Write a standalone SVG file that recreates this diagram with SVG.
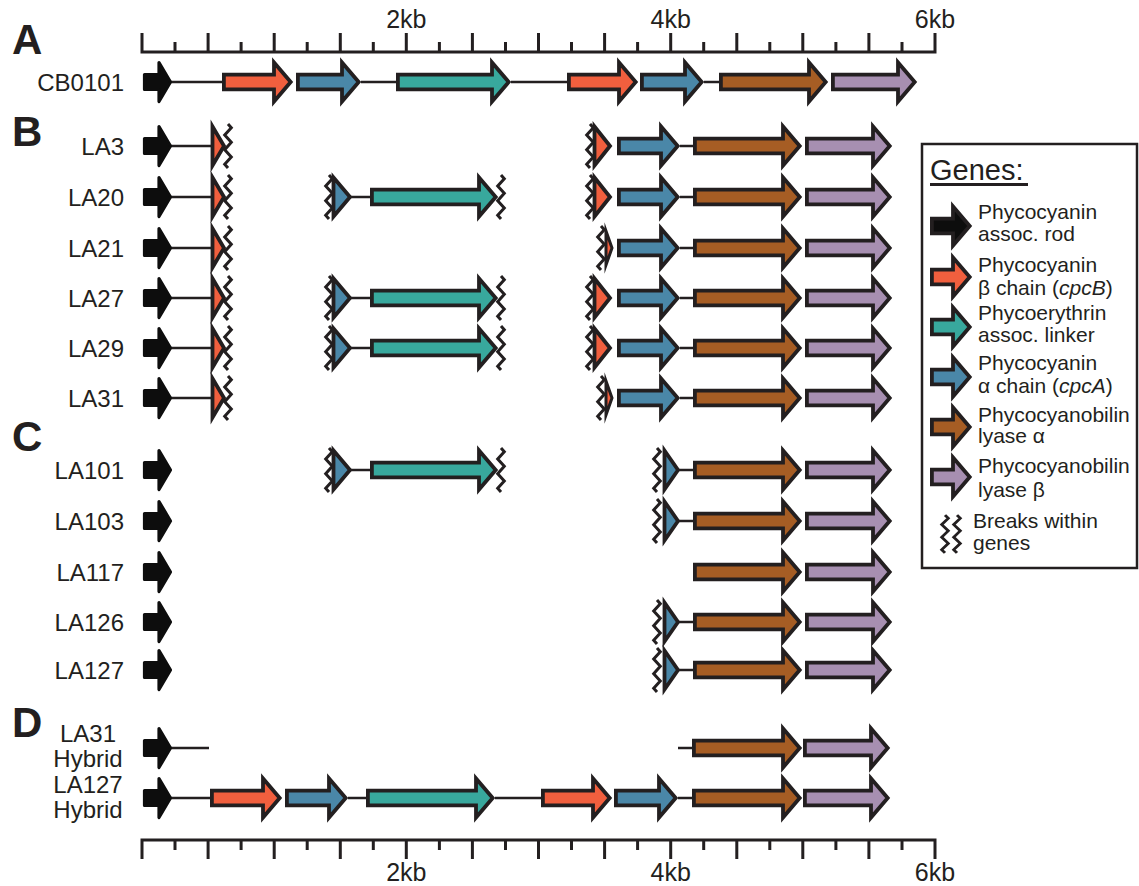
<svg xmlns="http://www.w3.org/2000/svg" xmlns:xlink="http://www.w3.org/1999/xlink" width="1139" height="886" viewBox="0 0 1139 886">
<style>
text{font-family:"Liberation Sans",Arial,sans-serif;fill:#231f20}
.lbl{font-size:24px;text-anchor:end}
.lblc{font-size:24px;text-anchor:middle}
.sec{font-size:42px;font-weight:bold}
.ax{font-size:25px;text-anchor:middle}
.leg{font-size:21px}
.g{stroke:#231f20;stroke-width:3.8;stroke-linejoin:miter;stroke-miterlimit:10}
.blk{fill:#0d0d0d;stroke:#0d0d0d;stroke-width:3.2;stroke-linejoin:round}
.red{fill:#f15f3e}.blu{fill:#4a87a8}.tea{fill:#38a89d}.brn{fill:#a65d24}.pur{fill:#a78fb1}
.ln line{stroke:#231f20;stroke-width:2.5}
.axl{stroke:#231f20;stroke-width:3;fill:none}
</style>
<defs>
<path id="zz" d="M0,-22L3.3,-18.3L-3.3,-11L3.3,-3.7L-3.3,3.7L3.3,11L-3.3,18.3L0,22" fill="none" stroke="#231f20" stroke-width="3"/>
</defs>

<g id="axis-top">
<path class="axl" d="M140.5,52H936.5M142,52V33M175,52V42M208.1,52V33M241.1,52V42M274.2,52V33M307.2,52V42M340.3,52V33M373.3,52V42M406.3,52V33M439.4,52V42M472.4,52V33M505.5,52V42M538.5,52V33M571.5,52V42M604.6,52V33M637.6,52V42M670.7,52V33M703.7,52V42M736.8,52V33M769.8,52V42M802.8,52V33M835.9,52V42M868.9,52V33M902,52V42M935,52V33"/>
<text class="ax" x="406.3" y="28">2kb</text>
<text class="ax" x="670.7" y="28">4kb</text>
<text class="ax" x="935" y="28">6kb</text>
</g>
<g id="axis-bottom">
<path class="axl" d="M140.5,840H936.5M142,840V859M175,840V850M208.1,840V859M241.1,840V850M274.2,840V859M307.2,840V850M340.3,840V859M373.3,840V850M406.3,840V859M439.4,840V850M472.4,840V859M505.5,840V850M538.5,840V859M571.5,840V850M604.6,840V859M637.6,840V850M670.7,840V859M703.7,840V850M736.8,840V859M769.8,840V850M802.8,840V859M835.9,840V850M868.9,840V859M902,840V850M935,840V859"/>
<text class="ax" x="406.3" y="881">2kb</text>
<text class="ax" x="670.7" y="881">4kb</text>
<text class="ax" x="935" y="881">6kb</text>
</g>

<g id="section-letters">
<text class="sec" x="12" y="54">A</text>
<text class="sec" x="12" y="146">B</text>
<text class="sec" x="12" y="451">C</text>
<text class="sec" x="12" y="737">D</text>
</g>

<g id="connectors" class="ln">
<line x1="171" y1="82" x2="222" y2="82"/><line x1="361" y1="82" x2="396" y2="82"/><line x1="511" y1="82" x2="567" y2="82"/><line x1="704" y1="82" x2="719" y2="82"/>
<line x1="171" y1="146" x2="213" y2="146"/><line x1="680" y1="146" x2="693" y2="146"/>
<line x1="171" y1="197" x2="213" y2="197"/><line x1="351" y1="197" x2="370" y2="197"/><line x1="680" y1="197" x2="693" y2="197"/>
<line x1="171" y1="248" x2="213" y2="248"/><line x1="680" y1="248" x2="693" y2="248"/>
<line x1="171" y1="298" x2="213" y2="298"/><line x1="351" y1="298" x2="370" y2="298"/><line x1="680" y1="298" x2="693" y2="298"/>
<line x1="171" y1="348" x2="213" y2="348"/><line x1="351" y1="348" x2="370" y2="348"/><line x1="680" y1="348" x2="693" y2="348"/>
<line x1="171" y1="398" x2="213" y2="398"/><line x1="680" y1="398" x2="693" y2="398"/>
<line x1="351" y1="470" x2="370" y2="470"/><line x1="679" y1="470" x2="693" y2="470"/>
<line x1="679" y1="521" x2="693" y2="521"/>
<line x1="679" y1="622" x2="693" y2="622"/>
<line x1="679" y1="670" x2="693" y2="670"/>
<line x1="171" y1="748" x2="209" y2="748"/><line x1="678" y1="748" x2="693" y2="748"/>
<line x1="171" y1="798" x2="210" y2="798"/><line x1="348" y1="798" x2="367" y2="798"/><line x1="495" y1="798" x2="541" y2="798"/><line x1="678" y1="798" x2="692" y2="798"/>
</g>

<g id="row-CB0101" transform="translate(0,82)">
<text class="lbl" x="124" y="8.5">CB0101</text>
<path class="blk" d="M144.5,-7.5H159V-19.5L170.5,0L159,19.5V7.5H144.5Z"/>
<path class="g red" d="M223.9,-7.3H274V-19.5L290.7,0L274,19.5V7.3H223.9Z"/>
<path class="g blu" d="M297.9,-7.3H342V-19.5L358.7,0L342,19.5V7.3H297.9Z"/>
<path class="g tea" d="M397.9,-7.3H492V-19.5L508.7,0L492,19.5V7.3H397.9Z"/>
<path class="g red" d="M568.9,-7.3H619V-19.5L635.7,0L619,19.5V7.3H568.9Z"/>
<path class="g blu" d="M641.9,-7.3H685V-19.5L701.7,0L685,19.5V7.3H641.9Z"/>
<path class="g brn" d="M720.9,-7.3H809V-19.5L825.7,0L809,19.5V7.3H720.9Z"/>
<path class="g pur" d="M832.9,-7.3H898V-19.5L914.7,0L898,19.5V7.3H832.9Z"/>
</g>

<g id="row-LA3" transform="translate(0,146)">
<text class="lbl" x="124" y="8.5">LA3</text>
<path class="blk" d="M144.5,-7.5H159V-19.5L170.5,0L159,19.5V7.5H144.5Z"/>
<path class="g red" d="M212.5,-19.5L224,0L212.5,19.5Z"/><use xlink:href="#zz" x="228"/>
<use xlink:href="#zz" x="590"/><path class="g red" d="M594.5,-19.5L610,0L594.5,19.5Z"/>
<path class="g blu" d="M618.9,-7.3H661V-19.5L677.7,0L661,19.5V7.3H618.9Z"/>
<path class="g brn" d="M694.9,-7.3H783V-19.5L799.7,0L783,19.5V7.3H694.9Z"/>
<path class="g pur" d="M806.9,-7.3H873V-19.5L889.7,0L873,19.5V7.3H806.9Z"/>
</g>

<g id="row-LA20" transform="translate(0,197)">
<text class="lbl" x="124" y="8.5">LA20</text>
<path class="blk" d="M144.5,-7.5H159V-19.5L170.5,0L159,19.5V7.5H144.5Z"/>
<path class="g red" d="M212.5,-19.5L224,0L212.5,19.5Z"/><use xlink:href="#zz" x="228"/>
<use xlink:href="#zz" x="329"/><path class="g blu" d="M333.5,-19.5L350,0L333.5,19.5Z"/>
<path class="g tea" d="M371.9,-7.3H479V-19.5L495.7,0L479,19.5V7.3H371.9Z"/><use xlink:href="#zz" x="501"/>
<use xlink:href="#zz" x="590"/><path class="g red" d="M594.5,-19.5L610,0L594.5,19.5Z"/>
<path class="g blu" d="M618.9,-7.3H661V-19.5L677.7,0L661,19.5V7.3H618.9Z"/>
<path class="g brn" d="M694.9,-7.3H783V-19.5L799.7,0L783,19.5V7.3H694.9Z"/>
<path class="g pur" d="M806.9,-7.3H873V-19.5L889.7,0L873,19.5V7.3H806.9Z"/>
</g>

<g id="row-LA21" transform="translate(0,248)">
<text class="lbl" x="124" y="8.5">LA21</text>
<path class="blk" d="M144.5,-7.5H159V-19.5L170.5,0L159,19.5V7.5H144.5Z"/>
<path class="g red" d="M212.5,-19.5L224,0L212.5,19.5Z"/><use xlink:href="#zz" x="228"/>
<use xlink:href="#zz" x="601"/><path class="g red" style="stroke-width:3" d="M606,-17L612,0L606,17Z"/>
<path class="g blu" d="M618.9,-7.3H661V-19.5L677.7,0L661,19.5V7.3H618.9Z"/>
<path class="g brn" d="M694.9,-7.3H783V-19.5L799.7,0L783,19.5V7.3H694.9Z"/>
<path class="g pur" d="M806.9,-7.3H873V-19.5L889.7,0L873,19.5V7.3H806.9Z"/>
</g>

<g id="row-LA27" transform="translate(0,298)">
<text class="lbl" x="124" y="8.5">LA27</text>
<path class="blk" d="M144.5,-7.5H159V-19.5L170.5,0L159,19.5V7.5H144.5Z"/>
<path class="g red" d="M212.5,-19.5L224,0L212.5,19.5Z"/><use xlink:href="#zz" x="228"/>
<use xlink:href="#zz" x="329"/><path class="g blu" d="M333.5,-19.5L350,0L333.5,19.5Z"/>
<path class="g tea" d="M371.9,-7.3H479V-19.5L495.7,0L479,19.5V7.3H371.9Z"/><use xlink:href="#zz" x="501"/>
<use xlink:href="#zz" x="590"/><path class="g red" d="M594.5,-19.5L610,0L594.5,19.5Z"/>
<path class="g blu" d="M618.9,-7.3H661V-19.5L677.7,0L661,19.5V7.3H618.9Z"/>
<path class="g brn" d="M694.9,-7.3H783V-19.5L799.7,0L783,19.5V7.3H694.9Z"/>
<path class="g pur" d="M806.9,-7.3H873V-19.5L889.7,0L873,19.5V7.3H806.9Z"/>
</g>

<g id="row-LA29" transform="translate(0,348)">
<text class="lbl" x="124" y="8.5">LA29</text>
<path class="blk" d="M144.5,-7.5H159V-19.5L170.5,0L159,19.5V7.5H144.5Z"/>
<path class="g red" d="M212.5,-19.5L224,0L212.5,19.5Z"/><use xlink:href="#zz" x="228"/>
<use xlink:href="#zz" x="329"/><path class="g blu" d="M333.5,-19.5L350,0L333.5,19.5Z"/>
<path class="g tea" d="M371.9,-7.3H479V-19.5L495.7,0L479,19.5V7.3H371.9Z"/><use xlink:href="#zz" x="501"/>
<use xlink:href="#zz" x="590"/><path class="g red" d="M594.5,-19.5L610,0L594.5,19.5Z"/>
<path class="g blu" d="M618.9,-7.3H661V-19.5L677.7,0L661,19.5V7.3H618.9Z"/>
<path class="g brn" d="M694.9,-7.3H783V-19.5L799.7,0L783,19.5V7.3H694.9Z"/>
<path class="g pur" d="M806.9,-7.3H873V-19.5L889.7,0L873,19.5V7.3H806.9Z"/>
</g>

<g id="row-LA31" transform="translate(0,398)">
<text class="lbl" x="124" y="8.5">LA31</text>
<path class="blk" d="M144.5,-7.5H159V-19.5L170.5,0L159,19.5V7.5H144.5Z"/>
<path class="g red" d="M212.5,-19.5L224,0L212.5,19.5Z"/><use xlink:href="#zz" x="228"/>
<use xlink:href="#zz" x="601"/><path class="g red" style="stroke-width:3" d="M606,-17L612,0L606,17Z"/>
<path class="g blu" d="M618.9,-7.3H661V-19.5L677.7,0L661,19.5V7.3H618.9Z"/>
<path class="g brn" d="M694.9,-7.3H783V-19.5L799.7,0L783,19.5V7.3H694.9Z"/>
<path class="g pur" d="M806.9,-7.3H873V-19.5L889.7,0L873,19.5V7.3H806.9Z"/>
</g>

<g id="row-LA101" transform="translate(0,470)">
<text class="lbl" x="124" y="8.5">LA101</text>
<path class="blk" d="M144.5,-7.5H159V-19.5L170.5,0L159,19.5V7.5H144.5Z"/>
<use xlink:href="#zz" x="329"/><path class="g blu" d="M333.5,-19.5L350,0L333.5,19.5Z"/>
<path class="g tea" d="M371.9,-7.3H479V-19.5L495.7,0L479,19.5V7.3H371.9Z"/><use xlink:href="#zz" x="501"/>
<use xlink:href="#zz" x="657"/><path class="g blu" d="M664.5,-19.5L678,0L664.5,19.5Z"/>
<path class="g brn" d="M694.9,-7.3H783V-19.5L799.7,0L783,19.5V7.3H694.9Z"/>
<path class="g pur" d="M806.9,-7.3H873V-19.5L889.7,0L873,19.5V7.3H806.9Z"/>
</g>

<g id="row-LA103" transform="translate(0,521)">
<text class="lbl" x="124" y="8.5">LA103</text>
<path class="blk" d="M144.5,-7.5H159V-19.5L170.5,0L159,19.5V7.5H144.5Z"/>
<use xlink:href="#zz" x="657"/><path class="g blu" d="M664.5,-19.5L678,0L664.5,19.5Z"/>
<path class="g brn" d="M694.9,-7.3H783V-19.5L799.7,0L783,19.5V7.3H694.9Z"/>
<path class="g pur" d="M806.9,-7.3H873V-19.5L889.7,0L873,19.5V7.3H806.9Z"/>
</g>

<g id="row-LA117" transform="translate(0,572)">
<text class="lbl" x="124" y="8.5">LA117</text>
<path class="blk" d="M144.5,-7.5H159V-19.5L170.5,0L159,19.5V7.5H144.5Z"/>
<path class="g brn" d="M694.9,-7.3H783V-19.5L799.7,0L783,19.5V7.3H694.9Z"/>
<path class="g pur" d="M806.9,-7.3H873V-19.5L889.7,0L873,19.5V7.3H806.9Z"/>
</g>

<g id="row-LA126" transform="translate(0,622)">
<text class="lbl" x="124" y="8.5">LA126</text>
<path class="blk" d="M144.5,-7.5H159V-19.5L170.5,0L159,19.5V7.5H144.5Z"/>
<use xlink:href="#zz" x="657"/><path class="g blu" d="M664.5,-19.5L678,0L664.5,19.5Z"/>
<path class="g brn" d="M694.9,-7.3H783V-19.5L799.7,0L783,19.5V7.3H694.9Z"/>
<path class="g pur" d="M806.9,-7.3H873V-19.5L889.7,0L873,19.5V7.3H806.9Z"/>
</g>

<g id="row-LA127" transform="translate(0,670)">
<text class="lbl" x="124" y="8.5">LA127</text>
<path class="blk" d="M144.5,-7.5H159V-19.5L170.5,0L159,19.5V7.5H144.5Z"/>
<use xlink:href="#zz" x="657"/><path class="g blu" d="M664.5,-19.5L678,0L664.5,19.5Z"/>
<path class="g brn" d="M694.9,-7.3H783V-19.5L799.7,0L783,19.5V7.3H694.9Z"/>
<path class="g pur" d="M806.9,-7.3H873V-19.5L889.7,0L873,19.5V7.3H806.9Z"/>
</g>

<g id="row-LA31-Hybrid" transform="translate(0,748)">
<text class="lblc" x="88" y="-6">LA31</text>
<text class="lblc" x="88" y="19">Hybrid</text>
<path class="blk" d="M144.5,-7.5H159V-19.5L170.5,0L159,19.5V7.5H144.5Z"/>
<path class="g brn" d="M693.9,-7.3H783V-19.5L799.7,0L783,19.5V7.3H693.9Z"/>
<path class="g pur" d="M804.9,-7.3H871V-19.5L887.7,0L871,19.5V7.3H804.9Z"/>
</g>

<g id="row-LA127-Hybrid" transform="translate(0,798)">
<text class="lblc" x="88" y="-5">LA127</text>
<text class="lblc" x="88" y="20">Hybrid</text>
<path class="blk" d="M144.5,-7.5H159V-19.5L170.5,0L159,19.5V7.5H144.5Z"/>
<path class="g red" d="M211.9,-7.3H263V-19.5L279.7,0L263,19.5V7.3H211.9Z"/>
<path class="g blu" d="M286.9,-7.3H329V-19.5L345.7,0L329,19.5V7.3H286.9Z"/>
<path class="g tea" d="M367.9,-7.3H476V-19.5L492.7,0L476,19.5V7.3H367.9Z"/>
<path class="g red" d="M542.9,-7.3H593V-19.5L609.7,0L593,19.5V7.3H542.9Z"/>
<path class="g blu" d="M615.9,-7.3H659V-19.5L675.7,0L659,19.5V7.3H615.9Z"/>
<path class="g brn" d="M693.9,-7.3H783V-19.5L799.7,0L783,19.5V7.3H693.9Z"/>
<path class="g pur" d="M804.9,-7.3H871V-19.5L887.7,0L871,19.5V7.3H804.9Z"/>
</g>

<g id="legend">
<rect x="922" y="144" width="215" height="424" fill="#fff" stroke="#231f20" stroke-width="2.5"/>
<text x="930" y="180" style="font-size:29px">Genes:</text>
<line x1="930" y1="184.5" x2="1028" y2="184.5" stroke="#231f20" stroke-width="3"/>
<path class="g" fill="#0d0d0d" transform="translate(0,226)" d="M931.9,-7.3H953V-19.5L969.7,0L953,19.5V7.3H931.9Z"/>
<text class="leg" x="978" y="219">Phycocyanin</text>
<text class="leg" x="978" y="241">assoc. rod</text>
<path class="g red" transform="translate(0,277)" d="M931.9,-7.3H953V-19.5L969.7,0L953,19.5V7.3H931.9Z"/>
<text class="leg" x="978" y="272">Phycocyanin</text>
<text class="leg" x="978" y="295">β chain (<tspan font-style="italic">cpcB</tspan>)</text>
<path class="g tea" transform="translate(0,327)" d="M931.9,-7.3H953V-19.5L969.7,0L953,19.5V7.3H931.9Z"/>
<text class="leg" x="978" y="320">Phycoerythrin</text>
<text class="leg" x="978" y="342">assoc. linker</text>
<path class="g blu" transform="translate(0,377)" d="M931.9,-7.3H953V-19.5L969.7,0L953,19.5V7.3H931.9Z"/>
<text class="leg" x="978" y="370">Phycocyanin</text>
<text class="leg" x="978" y="393">α chain (<tspan font-style="italic">cpcA</tspan>)</text>
<path class="g brn" transform="translate(0,427)" d="M931.9,-7.3H953V-19.5L969.7,0L953,19.5V7.3H931.9Z"/>
<text class="leg" x="978" y="422">Phycocyanobilin</text>
<text class="leg" x="978" y="443">lyase α</text>
<path class="g pur" transform="translate(0,477)" d="M931.9,-7.3H953V-19.5L969.7,0L953,19.5V7.3H931.9Z"/>
<text class="leg" x="978" y="473">Phycocyanobilin</text>
<text class="leg" x="978" y="497">lyase β</text>
<use xlink:href="#zz" transform="translate(945,534) scale(1,0.86)"/>
<use xlink:href="#zz" transform="translate(957,534) scale(1,0.86)"/>
<text class="leg" x="973" y="528">Breaks within</text>
<text class="leg" x="973" y="550">genes</text>
</g>
</svg>
